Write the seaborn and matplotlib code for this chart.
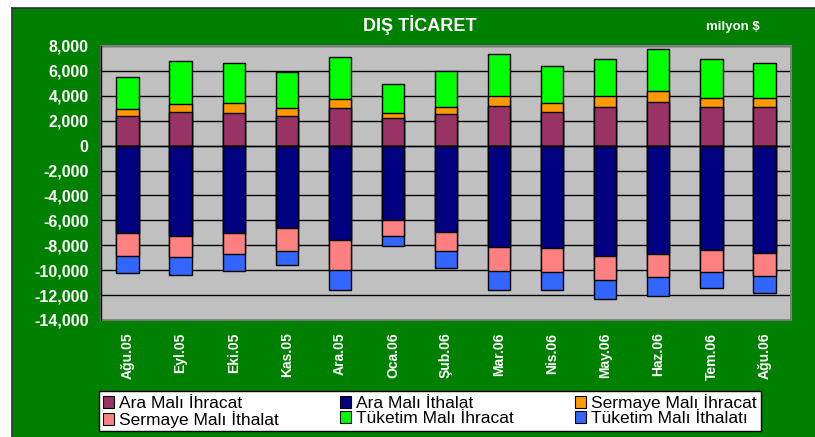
import matplotlib
matplotlib.use("Agg")
import matplotlib.pyplot as plt
import seaborn as sns
import numpy as np
import pandas as pd
from matplotlib.patches import Patch, Rectangle
from matplotlib.ticker import FuncFormatter, FixedLocator

months = ["Ağu.05", "Eyl.05", "Eki.05", "Kas.05", "Ara.05", "Oca.06", "Şub.06",
          "Mar.06", "Nis.06", "May.06", "Haz.06", "Tem.06", "Ağu.06"]

ara_ihracat = [2340, 2680, 2600, 2360, 3010, 2200, 2500, 3190, 2680, 3090, 3490, 3140, 3140]
sermaye_ihracat = [590, 650, 810, 650, 720, 460, 640, 810, 760, 860, 910, 670, 670]
tuketim_ihracat = [2600, 3460, 3250, 2900, 3380, 2250, 2850, 3360, 2980, 3030, 3360, 3120, 2790]
ara_ithalat = [-7050, -7290, -7050, -6620, -7610, -5970, -6910, -8120, -8230, -8870, -8740, -8360, -8600]
sermaye_ithalat = [-1800, -1690, -1690, -1800, -2360, -1320, -1560, -1910, -1880, -1940, -1800, -1750, -1880]
tuketim_ithalat = [-1340, -1370, -1290, -1200, -1590, -800, -1320, -1530, -1450, -1500, -1530, -1310, -1320]

y_ticks = [8000, 6000, 4000, 2000, 0, -2000, -4000, -6000, -8000, -10000, -12000, -14000]

names = ["Ara Malı İhracat", "Ara Malı İthalat", "Sermaye Malı İhracat",
         "Sermaye Malı İthalat", "Tüketim Malı İhracat", "Tüketim Malı İthalatı"]
colors = {"Ara Malı İhracat": "#993366", "Ara Malı İthalat": "#000080",
          "Sermaye Malı İhracat": "#FF9900", "Sermaye Malı İthalat": "#FF8080",
          "Tüketim Malı İhracat": "#00FF00", "Tüketim Malı İthalatı": "#3366FF"}

sns.set_theme(style="white")
plt.rcParams['font.family'] = ['Liberation Sans', 'DejaVu Sans']

fig = plt.figure(figsize=(8.15, 4.37), dpi=100)
fig.patch.set_facecolor("white")
W, H = 815, 437

# green frame as a background axes
bg = fig.add_axes([12 / W, 0, 1 - 12 / W, 1 - 8 / H], zorder=-10)
bg.set_facecolor("#008000")
bg.set_xticks([])
bg.set_yticks([])
for s in bg.spines.values():
    s.set_color("#303030")
    s.set_linewidth(1.2)
bg.spines["right"].set_visible(False)
bg.spines["bottom"].set_visible(False)

ax = fig.add_axes([101 / W, 1 - 320 / H, 690 / W, 274 / H])
ax.set_facecolor("#C0C0C0")

# cumulative stacks
p1 = np.array(ara_ihracat)
p2 = p1 + np.array(sermaye_ihracat)
p3 = p2 + np.array(tuketim_ihracat)
n1 = np.array(ara_ithalat)
n2 = n1 + np.array(sermaye_ithalat)
n3 = n2 + np.array(tuketim_ithalat)

layers = [(p3, "Tüketim Malı İhracat"), (p2, "Sermaye Malı İhracat"), (p1, "Ara Malı İhracat"),
          (n3, "Tüketim Malı İthalatı"), (n2, "Sermaye Malı İthalat"), (n1, "Ara Malı İthalat")]
for vals, nm in layers:
    df = pd.DataFrame({"Ay": months, "Değer": vals})
    sns.barplot(data=df, x="Ay", y="Değer", order=months, color=colors[nm], width=0.42,
                edgecolor="black", linewidth=1.0, saturation=1, errorbar=None, ax=ax, zorder=3)

ax.set_ylim(-14000, 8000)
ax.set_xlim(-0.5, len(months) - 0.5)
ax.yaxis.set_major_locator(FixedLocator(y_ticks))
ax.yaxis.set_major_formatter(FuncFormatter(lambda v, p: f"{int(v):,}"))
ax.grid(axis="y", color="black", linewidth=1.0, zorder=1)
ax.set_axisbelow(True)
ax.set_xlabel("")
ax.set_ylabel("")

for s in ["top", "right"]:
    ax.spines[s].set_color("#808080")
    ax.spines[s].set_linewidth(1.2)
ax.spines["left"].set_color("black")
ax.spines["left"].set_linewidth(1.0)
ax.spines["bottom"].set_position(("data", 0))
ax.spines["bottom"].set_color("black")
ax.spines["bottom"].set_linewidth(1.0)
ax.spines["bottom"].set_zorder(4)

ax.tick_params(axis="y", direction="out", length=5, width=1, color="black",
               labelcolor="white", labelsize=11.5, pad=4)
for lab in ax.get_yticklabels():
    lab.set_fontweight("bold")

# boundary ticks on the zero axis
ax.set_xticks(np.arange(len(months) - 1) + 0.5)
ax.set_xticklabels([])
ax.tick_params(axis="x", direction="out", length=4, width=1, color="black")

# bottom month labels
sec = ax.secondary_xaxis(0.0)
sec.set_xticks(np.arange(len(months)))
sec.set_xticklabels(months, rotation=90, fontsize=10, fontweight="bold", color="white")
sec.tick_params(length=0, pad=9)
sec.spines["bottom"].set_visible(False)

# bottom edge of plot area
ax.add_patch(Rectangle((0, 0), 1, 1, transform=ax.transAxes, fill=False,
                       edgecolor="#808080", linewidth=1.2, zorder=5, clip_on=False))
ax.spines["left"].set_zorder(6)

fig.text(420 / W, 1 - 25 / H, "DIŞ TİCARET", color="white", fontsize=13, fontweight="bold",
         ha="center", va="center")
fig.text(733 / W, 1 - 27 / H, "milyon $", color="white", fontsize=9.5, fontweight="bold",
         ha="center", va="center")

order = ["Ara Malı İhracat", "Sermaye Malı İthalat", "Ara Malı İthalat",
         "Tüketim Malı İhracat", "Sermaye Malı İhracat", "Tüketim Malı İthalatı"]
handles = [Patch(facecolor=colors[n], edgecolor="black", linewidth=0.8, label=n) for n in order]
leg = fig.legend(handles=handles, ncol=3, loc="center", bbox_to_anchor=(430 / W, 1 - 411 / H),
                 frameon=True, fontsize=12.5, handlelength=0.65, handleheight=0.65,
                 handletextpad=0.3, columnspacing=3.5, labelspacing=0.0, borderpad=0.2,
                 fancybox=False, framealpha=1)
leg.get_frame().set_edgecolor("black")
leg.get_frame().set_facecolor("white")
leg.get_frame().set_linewidth(1.0)
for t in leg.get_texts():
    t.set_color("black")

fig.savefig("out.png", dpi=100, facecolor=fig.get_facecolor())
